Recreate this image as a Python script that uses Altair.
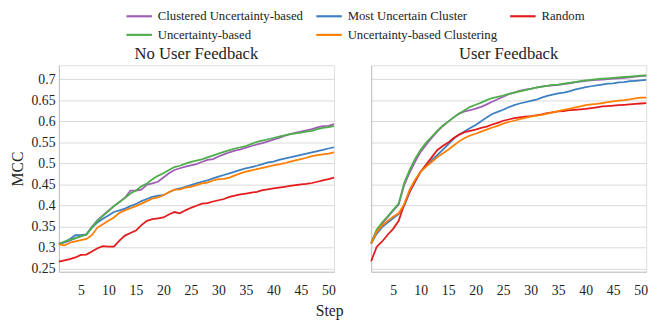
import altair as alt
import pandas as pd

steps = list(range(1, 52))
methods = ["Clustered Uncertainty-based", "Most Uncertain Cluster", "Random",
           "Uncertainty-based", "Uncertainty-based Clustering"]
colors = ["#a05db5", "#3d7fc1", "#e41a1c", "#4daf4a", "#ff7f00"]
x_ticks = [5, 10, 15, 20, 25, 30, 35, 40, 45, 50]
y_ticks = [0.25, 0.3, 0.35, 0.4, 0.45, 0.5, 0.55, 0.6, 0.65, 0.7]

# ---- No User Feedback ----
nf_clustered = [0.309, 0.312, 0.316, 0.322, 0.327, 0.330, 0.349, 0.364, 0.376, 0.387,
                0.398, 0.408, 0.418, 0.435, 0.435, 0.437, 0.449, 0.452, 0.456, 0.466,
                0.476, 0.484, 0.488, 0.492, 0.495, 0.498, 0.503, 0.508, 0.510, 0.516,
                0.521, 0.526, 0.530, 0.533, 0.537, 0.541, 0.545, 0.548, 0.552, 0.556,
                0.560, 0.565, 0.569, 0.572, 0.575, 0.578, 0.581, 0.585, 0.588, 0.589,
                0.593]
nf_most_unc = [0.308, 0.312, 0.320, 0.329, 0.329, 0.331, 0.347, 0.359, 0.368, 0.376,
               0.384, 0.388, 0.392, 0.398, 0.403, 0.410, 0.415, 0.420, 0.423, 0.424,
               0.431, 0.437, 0.440, 0.444, 0.448, 0.452, 0.456, 0.459, 0.464, 0.468,
               0.472, 0.476, 0.480, 0.484, 0.488, 0.491, 0.494, 0.498, 0.502, 0.504,
               0.508, 0.511, 0.514, 0.517, 0.520, 0.523, 0.526, 0.529, 0.532, 0.535,
               0.538]
nf_random = [0.266, 0.269, 0.272, 0.276, 0.282, 0.283, 0.290, 0.298, 0.303, 0.302,
             0.302, 0.316, 0.328, 0.334, 0.340, 0.353, 0.363, 0.367, 0.369, 0.371,
             0.378, 0.384, 0.381, 0.388, 0.394, 0.399, 0.404, 0.405, 0.409, 0.412,
             0.415, 0.420, 0.423, 0.426, 0.428, 0.430, 0.432, 0.436, 0.438, 0.440,
             0.442, 0.444, 0.446, 0.448, 0.450, 0.451, 0.453, 0.456, 0.459, 0.462,
             0.466]
nf_uncertainty = [0.308, 0.314, 0.318, 0.322, 0.326, 0.331, 0.347, 0.363, 0.375, 0.386,
                  0.398, 0.408, 0.417, 0.428, 0.435, 0.445, 0.452, 0.462, 0.470, 0.476,
                  0.484, 0.491, 0.494, 0.499, 0.503, 0.506, 0.509, 0.514, 0.518, 0.523,
                  0.527, 0.531, 0.535, 0.538, 0.541, 0.546, 0.551, 0.554, 0.557, 0.560,
                  0.563, 0.566, 0.569, 0.571, 0.573, 0.575, 0.577, 0.581, 0.584, 0.586,
                  0.588]
nf_unc_clustering = [0.307, 0.305, 0.311, 0.314, 0.317, 0.320, 0.329, 0.347, 0.355, 0.363,
                     0.371, 0.382, 0.388, 0.393, 0.398, 0.404, 0.410, 0.416, 0.419, 0.424,
                     0.431, 0.437, 0.438, 0.442, 0.444, 0.448, 0.452, 0.454, 0.459, 0.462,
                     0.463, 0.466, 0.471, 0.476, 0.480, 0.483, 0.486, 0.489, 0.492, 0.495,
                     0.497, 0.500, 0.504, 0.507, 0.510, 0.513, 0.517, 0.519, 0.521, 0.523,
                     0.526]

# ---- User Feedback ----
uf_clustered = [0.310, 0.340, 0.357, 0.372, 0.387, 0.402, 0.448, 0.478, 0.504, 0.527,
                0.544, 0.560, 0.575, 0.588, 0.599, 0.609, 0.618, 0.623, 0.626, 0.630,
                0.634, 0.640, 0.646, 0.652, 0.658, 0.664, 0.668, 0.672, 0.675, 0.677,
                0.680, 0.682, 0.684, 0.685, 0.686, 0.688, 0.690, 0.692, 0.694, 0.696,
                0.697, 0.698, 0.699, 0.700, 0.701, 0.702, 0.703, 0.704, 0.706, 0.707,
                0.708]
uf_most_unc = [0.309, 0.332, 0.348, 0.359, 0.369, 0.379, 0.398, 0.431, 0.457, 0.480,
               0.493, 0.507, 0.519, 0.532, 0.545, 0.558, 0.568, 0.576, 0.584, 0.591,
               0.600, 0.609, 0.617, 0.622, 0.627, 0.633, 0.638, 0.642, 0.645, 0.648,
               0.651, 0.656, 0.660, 0.663, 0.666, 0.668, 0.671, 0.675, 0.678, 0.681,
               0.683, 0.685, 0.687, 0.689, 0.690, 0.692, 0.693, 0.695, 0.696, 0.697,
               0.698]
uf_random = [0.267, 0.301, 0.314, 0.330, 0.344, 0.363, 0.402, 0.433, 0.457, 0.480,
             0.497, 0.514, 0.531, 0.541, 0.549, 0.560, 0.568, 0.574, 0.577, 0.580,
             0.584, 0.587, 0.592, 0.596, 0.601, 0.604, 0.607, 0.609, 0.611, 0.612,
             0.614, 0.616, 0.619, 0.621, 0.623, 0.624, 0.626, 0.627, 0.628, 0.629,
             0.631, 0.633, 0.635, 0.636, 0.637, 0.638, 0.639, 0.640, 0.641, 0.642,
             0.643]
uf_uncertainty = [0.310, 0.342, 0.359, 0.374, 0.389, 0.404, 0.453, 0.484, 0.511, 0.532,
                  0.549, 0.563, 0.577, 0.589, 0.599, 0.609, 0.618, 0.626, 0.634, 0.639,
                  0.644, 0.650, 0.655, 0.658, 0.661, 0.665, 0.668, 0.671, 0.674, 0.677,
                  0.680, 0.682, 0.684, 0.686, 0.687, 0.689, 0.691, 0.693, 0.695, 0.697,
                  0.698, 0.700, 0.701, 0.702, 0.703, 0.704, 0.705, 0.706, 0.707, 0.708,
                  0.709]
uf_unc_clustering = [0.309, 0.336, 0.352, 0.363, 0.373, 0.381, 0.402, 0.437, 0.461, 0.480,
                     0.492, 0.503, 0.514, 0.523, 0.532, 0.542, 0.552, 0.560, 0.566, 0.570,
                     0.575, 0.580, 0.585, 0.589, 0.594, 0.598, 0.601, 0.605, 0.608, 0.611,
                     0.613, 0.615, 0.618, 0.621, 0.624, 0.627, 0.629, 0.632, 0.635, 0.638,
                     0.640, 0.641, 0.643, 0.645, 0.647, 0.649, 0.650, 0.652, 0.654, 0.656,
                     0.656]

FONT = "Liberation Serif"
TXT = "#222222"


def long_frame(series_list):
    rows = []
    for name, vals in zip(methods, series_list):
        for s, v in zip(steps, vals):
            rows.append({"Step": s, "MCC": v, "Method": name})
    return pd.DataFrame(rows)


df_nf = long_frame([nf_clustered, nf_most_unc, nf_random, nf_uncertainty, nf_unc_clustering])
df_uf = long_frame([uf_clustered, uf_most_unc, uf_random, uf_uncertainty, uf_unc_clustering])

x_enc = alt.X("Step:Q",
              scale=alt.Scale(domain=[1, 51], nice=False, zero=False),
              axis=alt.Axis(values=x_ticks, grid=False, ticks=False, title=None,
                            domainColor="#bfbfbf", labelFont=FONT, labelFontSize=14,
                            labelColor=TXT, labelPadding=12))
y_scale = alt.Scale(domain=[0.242, 0.733], nice=False, zero=False)

color_enc = alt.Color("Method:N",
                      scale=alt.Scale(domain=methods, range=colors),
                      legend=alt.Legend(orient="none", legendX=74, legendY=-58,
                                        direction="horizontal",
                                        columns=3, title=None, labelFont=FONT,
                                        labelFontSize=13, labelColor=TXT,
                                        symbolType="M-2,0L2,0", symbolStrokeWidth=2.2,
                                        symbolSize=169, columnPadding=8, rowPadding=4,
                                        labelOffset=11, labelLimit=300))


def panel(df, title, left):
    if left:
        y_axis = alt.Axis(values=y_ticks, format="~g", grid=True, gridColor="#d9d9d9",
                          ticks=False, domainColor="#bfbfbf", title="MCC",
                          titleFont=FONT, titleFontSize=16, titleFontWeight="normal",
                          titleColor=TXT, titlePadding=6,
                          labelFont=FONT, labelFontSize=14, labelColor=TXT,
                          labelPadding=4)
    else:
        y_axis = alt.Axis(values=y_ticks, grid=True, gridColor="#d9d9d9", ticks=False,
                          labels=False, domainColor="#bfbfbf", title=None)
    return alt.Chart(df).mark_line(strokeWidth=1.8).encode(
        x=x_enc,
        y=alt.Y("MCC:Q", scale=y_scale, axis=y_axis),
        color=color_enc,
    ).properties(width=281, height=211,
                 title=alt.TitleParams(title, font=FONT, fontSize=17, fontWeight="normal",
                                       color=TXT, offset=2))


chart = alt.hconcat(panel(df_nf, "No User Feedback", True),
                    panel(df_uf, "User Feedback", False),
                    spacing=28).properties(
    title=alt.TitleParams("Step", orient="bottom", anchor="middle", font=FONT,
                          fontSize=16, fontWeight="normal", color=TXT, offset=6),
    padding={"left": 1, "top": -3, "right": 5, "bottom": 5}
).configure_view(stroke=None).configure(background="white", font=FONT)

chart.save("out.html", embed_options={"renderer": "svg", "actions": False})
